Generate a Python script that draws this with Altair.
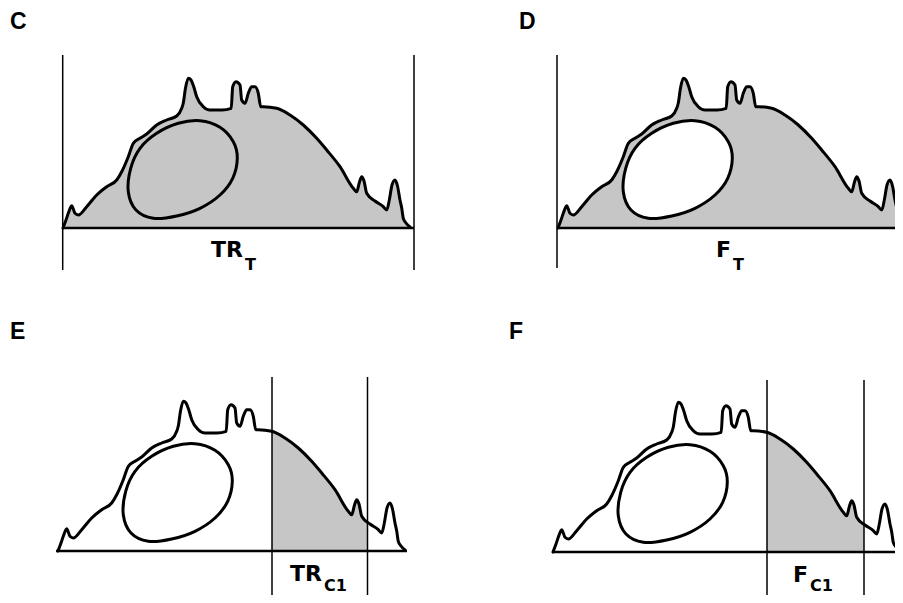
import altair as alt
import pandas as pd
import numpy as np

# ---- traced cell outline (panel C pixel coordinates) ----
outline_x = [63, 66, 68.3, 71.7, 75, 78.3, 86.7, 96.7, 106.7, 116.7, 121.7, 128.3, 133.3, 140, 146.7,
             156.7, 166.7, 176.7, 181.7, 183.3, 185.5, 188.3, 191, 193.5, 196.7, 203.3, 210, 222, 231.2,
             232.7, 236, 240, 241.7, 245, 248.3, 251.7, 255, 258.3, 260.7, 263.3, 276.7, 290, 303.3,
             316.7, 326.7, 340, 353.3, 356.7, 359.5, 361.7, 364, 366.7, 375, 383.3, 386.7, 389.5, 392,
             395, 397.5, 400, 401.7, 403.3, 406, 410]
outline_y = [228, 220, 213.3, 205.7, 213.3, 215, 206.7, 195, 186.7, 180, 171.7, 156.7, 143.3, 138.3, 134,
             125, 120, 116, 108.3, 103, 88, 78.3, 80, 86, 96.7, 106.7, 110, 110, 108.3,
             86.7, 81.7, 85, 100, 103.3, 93.3, 86.7, 86.7, 93.3, 106.7, 106.7, 108.3, 115, 125,
             138.3, 150, 166.7, 188.3, 191.7, 182, 176.7, 181, 193.3, 201, 206.7, 210, 199, 185,
             180, 186, 200, 208, 218.3, 223, 227]

# ---- traced nucleus (panel C pixel coordinates) ----
nucleus_x = [200, 220, 233.3, 237.3, 232.7, 220, 200, 176.7, 153.3, 136, 128.3, 130.7, 140, 156.7, 178.3]
nucleus_y = [120.7, 127.3, 141.7, 158.3, 178.3, 195, 208.3, 216, 218.3, 210, 191.7, 168.3, 148.3, 133.3, 123.3]

# ---- panels ----
panels = ["C", "D", "E", "F"]
panel_dx = [0, 495, -5, 490]
panel_dy = [0, 0, 323, 324]
baseline_y = [228, 228, 551, 552]
baseline_x0 = [62, 557, 56, 552]
baseline_x1 = [414, 902, 407, 899]
shade_x0 = [None, None, 272, 767]
shade_x1 = [None, None, 367.5, 864]

# vertical guide lines
vline_x = [62.7, 414, 557, 272, 367.5, 767, 864]
vline_y0 = [55, 55, 55, 377, 377, 380, 380]
vline_y1 = [270, 270, 268, 596, 596, 598, 598]

# text
panel_labels = ["C", "D", "E", "F"]
panel_label_x = [10, 519, 10, 509]
panel_label_y = [29, 29, 339, 339]
main_text = ["TR", "F", "TR", "F"]
main_x = [243, 731, 322, 808]
main_y = [257, 257, 581, 582]
sub_text = ["T", "T", "C1", "C1"]
sub_x = [245, 733, 324, 810]
sub_y = [270, 270, 591, 591]

SHADE = "#c6c6c6"

# ---- build tables ----
ox = np.array(outline_x, dtype=float)
oy = np.array(outline_y, dtype=float)
rows_line, rows_area, rows_nuc = [], [], []
for p, dx, dy, s0, s1 in zip(panels, panel_dx, panel_dy, shade_x0, shade_x1):
    for i, (x, y) in enumerate(zip(ox, oy)):
        rows_line.append(dict(panel=p, i=i, x=x + dx, y=y + dy))
    base = 228 + dy
    if s0 is None:
        for x, y in zip(ox, oy):
            rows_area.append(dict(panel=p, x=x + dx, y=y + dy, y2=base))
    else:
        a, b = s0 - dx, s1 - dx
        pts = [(a, float(np.interp(a, ox, oy)))]
        pts += [(x, y) for x, y in zip(ox, oy) if a < x < b]
        pts.append((b, float(np.interp(b, ox, oy))))
        for x, y in pts:
            rows_area.append(dict(panel=p, x=x + dx, y=y + dy, y2=base))
    for i, (x, y) in enumerate(zip(nucleus_x, nucleus_y)):
        rows_nuc.append(dict(panel=p, i=i, x=x + dx, y=y + dy))

line_df = pd.DataFrame(rows_line)
area_df = pd.DataFrame(rows_area)
nuc_df = pd.DataFrame(rows_nuc)
base_df = pd.DataFrame(dict(x=baseline_x0, x2=baseline_x1, y=baseline_y))
vline_df = pd.DataFrame(dict(x=vline_x, y=vline_y0, y2=vline_y1))
lab_df = pd.DataFrame(dict(t=panel_labels, x=panel_label_x, y=panel_label_y))
main_df = pd.DataFrame(dict(t=main_text, x=main_x, y=main_y))
sub_df = pd.DataFrame(dict(t=sub_text, x=sub_x, y=sub_y))

W, H = 887, 587
xs = alt.Scale(domain=[8, 8 + W], nice=False, zero=False)
ys = alt.Scale(domain=[8, 8 + H], nice=False, zero=False, reverse=True)
X = lambda f="x": alt.X(f"{f}:Q", scale=xs, axis=None)
Y = lambda f="y": alt.Y(f"{f}:Q", scale=ys, axis=None)

area = alt.Chart(area_df).mark_area(interpolate="monotone", color=SHADE).encode(
    x=X(), y=Y(), y2="y2:Q", detail="panel:N")

outline = alt.Chart(line_df).mark_line(interpolate="monotone", color="black", strokeWidth=3,
                                       strokeJoin="round", strokeCap="round").encode(
    x=X(), y=Y(), order="i:Q", detail="panel:N")

nuc_white = alt.Chart(nuc_df[nuc_df.panel != "C"]).mark_line(
    interpolate="cardinal-closed", fill="white", stroke="black", strokeWidth=3).encode(
    x=X(), y=Y(), order="i:Q", detail="panel:N")
nuc_c = alt.Chart(nuc_df[nuc_df.panel == "C"]).mark_line(
    interpolate="cardinal-closed", fill=SHADE, stroke="black", strokeWidth=3).encode(
    x=X(), y=Y(), order="i:Q", detail="panel:N")

baselines = alt.Chart(base_df).mark_rule(color="black", strokeWidth=2.5).encode(
    x=X(), x2="x2:Q", y=Y())
vlines = alt.Chart(vline_df).mark_rule(color="black", strokeWidth=1.5).encode(
    x=X(), y=Y(), y2="y2:Q")

FONT = "DejaVu Sans"
labels = alt.Chart(lab_df).mark_text(font="Liberation Sans", fontWeight="bold", fontSize=23,
                                     align="left", baseline="alphabetic", color="black").encode(
    x=X(), y=Y(), text="t:N")
mains = alt.Chart(main_df).mark_text(font=FONT, fontWeight="bold", fontSize=22,
                                     align="right", baseline="alphabetic", color="black").encode(
    x=X(), y=Y(), text="t:N")
subs = alt.Chart(sub_df).mark_text(font=FONT, fontWeight="bold", fontSize=16,
                                   align="left", baseline="alphabetic", color="black").encode(
    x=X(), y=Y(), text="t:N")

chart = alt.layer(area, outline, nuc_c, nuc_white, baselines, vlines, labels, mains, subs).properties(
    width=W, height=H, padding=0, autosize=alt.AutoSizeParams(type="none")
).configure(background="white", view=alt.ViewConfig(stroke=None))

chart.save("out.html", embed_options={"renderer": "svg", "actions": False})
